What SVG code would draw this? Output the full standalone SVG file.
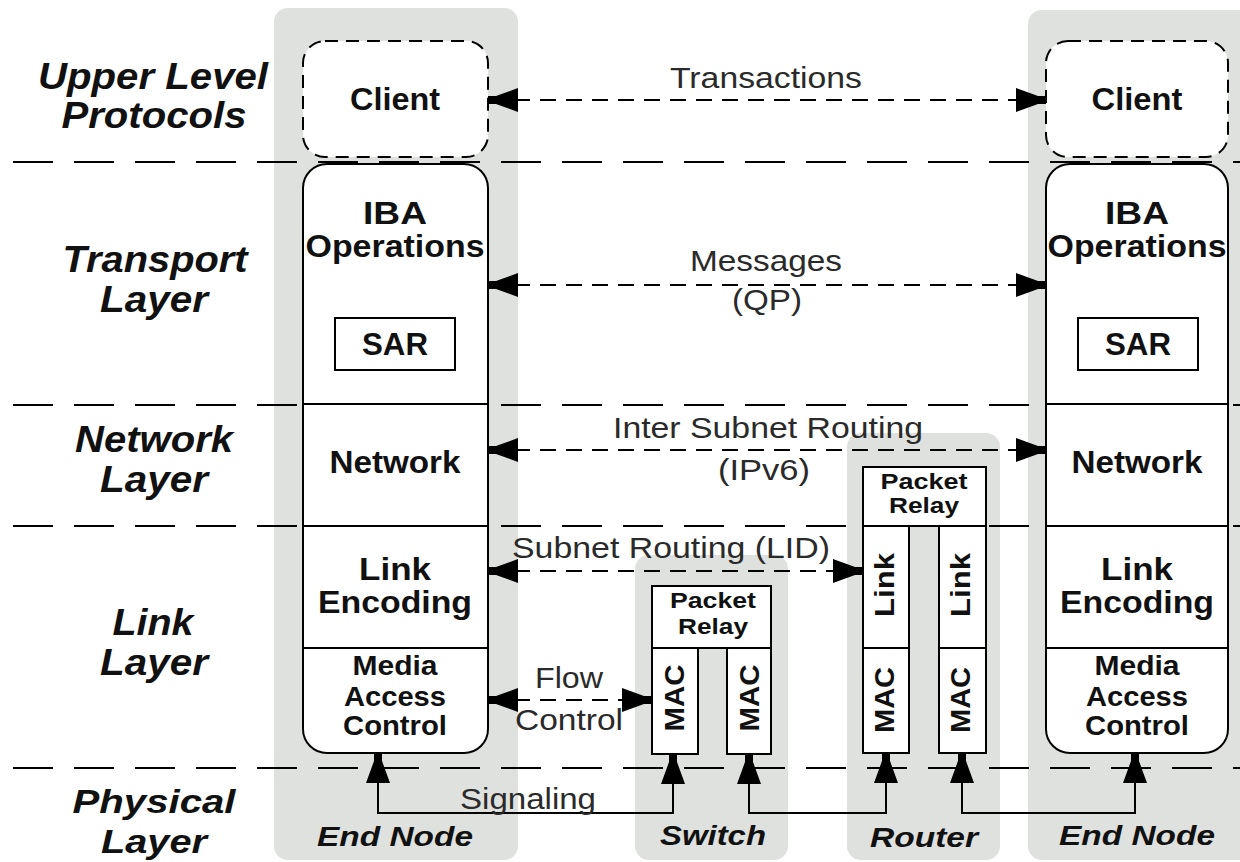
<svg xmlns="http://www.w3.org/2000/svg" width="1240" height="862" viewBox="0 0 1240 862">
  <style>
    .panel { fill: #dfe1de; }
    .layer-line { stroke: #000; stroke-width: 2; stroke-dasharray: 40 21; fill: none; }
    .box { fill: #fff; stroke: #000; stroke-width: 2; }
    .dbox { fill: #fff; stroke: #000; stroke-width: 2; stroke-dasharray: 13 8; }
    .div { stroke: #000; stroke-width: 2; fill: none; }
    .conn { stroke: #000; stroke-width: 2; fill: none; stroke-dasharray: 16 10; }
    .sig { stroke: #000; stroke-width: 2; fill: none; }
    .layer { font-family: "Liberation Sans", Arial, sans-serif; font-weight: bold; font-style: italic; font-size: 36px; fill: #111; text-anchor: middle; }
    .layer-sm { font-size: 33px; }
    .lbl { font-family: "Liberation Sans", Arial, sans-serif; font-weight: bold; font-size: 32px; fill: #111; text-anchor: middle; }
    .lbl-s { font-family: "Liberation Sans", Arial, sans-serif; font-weight: bold; font-size: 28px; fill: #111; text-anchor: middle; }
    .lbl-xs { font-family: "Liberation Sans", Arial, sans-serif; font-weight: bold; font-size: 22px; fill: #111; text-anchor: middle; }
    .lbl-rot { font-family: "Liberation Sans", Arial, sans-serif; font-weight: bold; font-size: 28px; fill: #111; text-anchor: middle; }
    .cap { font-family: "Liberation Sans", Arial, sans-serif; font-weight: bold; font-style: italic; font-size: 28px; fill: #111; text-anchor: middle; }
    .clbl { font-family: "Liberation Sans", Arial, sans-serif; font-size: 29px; fill: #2a2a2a; text-anchor: middle; }
  </style>
  <defs>
    <marker id="ah" viewBox="0 0 30 24" refX="30" refY="12" markerWidth="30" markerHeight="24" markerUnits="userSpaceOnUse" orient="auto-start-reverse">
      <path d="M0,0 L22,8 L30,8 L30,16 L22,16 L0,24 Z" fill="#000"/>
    </marker>
  </defs>

  <rect width="1240" height="862" fill="#fff"/>

  <!-- shaded node panels -->
  <g id="panels">
    <rect class="panel" x="274" y="8" width="244" height="852" rx="14"/>
    <rect class="panel" x="1028" y="10" width="230" height="850" rx="14"/>
    <rect class="panel" x="635" y="555" width="153" height="305" rx="14"/>
    <rect class="panel" x="847" y="433" width="153" height="427" rx="14"/>
  </g>

  <!-- layer boundaries -->
  <g id="layer-lines">
    <line class="layer-line" x1="13" y1="162" x2="1240" y2="162"/>
    <line class="layer-line" x1="13" y1="405" x2="1240" y2="405"/>
    <line class="layer-line" x1="13" y1="526" x2="1240" y2="526"/>
    <line class="layer-line" x1="13" y1="768" x2="1240" y2="768"/>
  </g>

  <!-- layer names -->
  <g id="layer-names">
    <text class="layer" x="153" y="89" textLength="230" lengthAdjust="spacingAndGlyphs">Upper Level</text>
    <text class="layer" x="154" y="128" textLength="185" lengthAdjust="spacingAndGlyphs">Protocols</text>
    <text class="layer" x="155" y="272" textLength="185" lengthAdjust="spacingAndGlyphs">Transport</text>
    <text class="layer" x="154" y="312" textLength="108" lengthAdjust="spacingAndGlyphs">Layer</text>
    <text class="layer" x="154" y="452" textLength="158" lengthAdjust="spacingAndGlyphs">Network</text>
    <text class="layer" x="154" y="492" textLength="108" lengthAdjust="spacingAndGlyphs">Layer</text>
    <text class="layer" x="153" y="635" textLength="81" lengthAdjust="spacingAndGlyphs">Link</text>
    <text class="layer" x="154" y="675" textLength="108" lengthAdjust="spacingAndGlyphs">Layer</text>
    <text class="layer layer-sm" x="154" y="813" textLength="163" lengthAdjust="spacingAndGlyphs">Physical</text>
    <text class="layer layer-sm" x="154" y="853" textLength="106" lengthAdjust="spacingAndGlyphs">Layer</text>
  </g>

  <!-- left end node -->
  <g id="end-node-left">
    <rect class="dbox" x="303" y="41" width="185" height="116" rx="22"/>
    <text class="lbl" x="395" y="110" textLength="90" lengthAdjust="spacingAndGlyphs">Client</text>
    <rect class="box" x="303" y="164" width="185" height="589" rx="24"/>
    <line class="div" x1="303" y1="404" x2="488" y2="404"/>
    <line class="div" x1="303" y1="526" x2="488" y2="526"/>
    <line class="div" x1="303" y1="648" x2="488" y2="648"/>
    <text class="lbl" x="395" y="224" textLength="64" lengthAdjust="spacingAndGlyphs">IBA</text>
    <text class="lbl" x="395" y="257" textLength="179" lengthAdjust="spacingAndGlyphs">Operations</text>
    <rect class="box" x="335" y="318" width="120" height="52"/>
    <text class="lbl" x="395" y="355" textLength="66" lengthAdjust="spacingAndGlyphs">SAR</text>
    <text class="lbl" x="395" y="473" textLength="131" lengthAdjust="spacingAndGlyphs">Network</text>
    <text class="lbl" x="395" y="580" textLength="72" lengthAdjust="spacingAndGlyphs">Link</text>
    <text class="lbl" x="395" y="613" textLength="154" lengthAdjust="spacingAndGlyphs">Encoding</text>
    <text class="lbl-s" x="395" y="675" textLength="85" lengthAdjust="spacingAndGlyphs">Media</text>
    <text class="lbl-s" x="395" y="706" textLength="102" lengthAdjust="spacingAndGlyphs">Access</text>
    <text class="lbl-s" x="395" y="735" textLength="104" lengthAdjust="spacingAndGlyphs">Control</text>
    <text class="cap" x="395" y="846" textLength="156" lengthAdjust="spacingAndGlyphs">End Node</text>
  </g>

  <!-- right end node -->
  <g id="end-node-right">
    <rect class="dbox" x="1046" y="41" width="182" height="116" rx="22"/>
    <text class="lbl" x="1137" y="110" textLength="91" lengthAdjust="spacingAndGlyphs">Client</text>
    <rect class="box" x="1046" y="164" width="182" height="589" rx="24"/>
    <line class="div" x1="1046" y1="404" x2="1228" y2="404"/>
    <line class="div" x1="1046" y1="526" x2="1228" y2="526"/>
    <line class="div" x1="1046" y1="648" x2="1228" y2="648"/>
    <text class="lbl" x="1137" y="224" textLength="64" lengthAdjust="spacingAndGlyphs">IBA</text>
    <text class="lbl" x="1137" y="257" textLength="179" lengthAdjust="spacingAndGlyphs">Operations</text>
    <rect class="box" x="1078" y="318" width="120" height="52"/>
    <text class="lbl" x="1138" y="355" textLength="66" lengthAdjust="spacingAndGlyphs">SAR</text>
    <text class="lbl" x="1137" y="473" textLength="131" lengthAdjust="spacingAndGlyphs">Network</text>
    <text class="lbl" x="1137" y="580" textLength="72" lengthAdjust="spacingAndGlyphs">Link</text>
    <text class="lbl" x="1137" y="613" textLength="154" lengthAdjust="spacingAndGlyphs">Encoding</text>
    <text class="lbl-s" x="1137" y="675" textLength="85" lengthAdjust="spacingAndGlyphs">Media</text>
    <text class="lbl-s" x="1137" y="706" textLength="102" lengthAdjust="spacingAndGlyphs">Access</text>
    <text class="lbl-s" x="1137" y="735" textLength="104" lengthAdjust="spacingAndGlyphs">Control</text>
    <text class="cap" x="1137" y="845" textLength="156" lengthAdjust="spacingAndGlyphs">End Node</text>
  </g>

  <!-- switch -->
  <g id="switch">
    <rect class="box" x="652" y="586" width="119" height="62"/>
    <text class="lbl-xs" x="713" y="608" textLength="86" lengthAdjust="spacingAndGlyphs">Packet</text>
    <text class="lbl-xs" x="713" y="634" textLength="70" lengthAdjust="spacingAndGlyphs">Relay</text>
    <rect class="box" x="652" y="648" width="46" height="106"/>
    <rect class="box" x="727" y="648" width="44" height="106"/>
    <text class="lbl-rot" transform="translate(684 698) rotate(-90)" textLength="67" lengthAdjust="spacingAndGlyphs">MAC</text>
    <text class="lbl-rot" transform="translate(759 698) rotate(-90)" textLength="67" lengthAdjust="spacingAndGlyphs">MAC</text>
    <text class="cap" x="713" y="845" textLength="106" lengthAdjust="spacingAndGlyphs">Switch</text>
  </g>

  <!-- router -->
  <g id="router">
    <rect class="box" x="863" y="467" width="123" height="59"/>
    <text class="lbl-xs" x="924" y="489" textLength="87" lengthAdjust="spacingAndGlyphs">Packet</text>
    <text class="lbl-xs" x="924" y="513" textLength="70" lengthAdjust="spacingAndGlyphs">Relay</text>
    <rect class="box" x="863" y="526" width="46" height="122"/>
    <rect class="box" x="863" y="648" width="46" height="105"/>
    <rect class="box" x="939" y="526" width="47" height="122"/>
    <rect class="box" x="939" y="648" width="47" height="105"/>
    <text class="lbl-rot" transform="translate(894 585) rotate(-90)" textLength="64" lengthAdjust="spacingAndGlyphs">Link</text>
    <text class="lbl-rot" transform="translate(970 585) rotate(-90)" textLength="64" lengthAdjust="spacingAndGlyphs">Link</text>
    <text class="lbl-rot" transform="translate(894 700) rotate(-90)" textLength="66" lengthAdjust="spacingAndGlyphs">MAC</text>
    <text class="lbl-rot" transform="translate(970 700) rotate(-90)" textLength="66" lengthAdjust="spacingAndGlyphs">MAC</text>
    <text class="cap" x="924" y="847" textLength="108" lengthAdjust="spacingAndGlyphs">Router</text>
  </g>

  <!-- peer-to-peer connectors -->
  <g id="connectors">
    <path class="conn" d="M488,100 H1046" marker-start="url(#ah)" marker-end="url(#ah)"/>
    <path class="conn" d="M488,285 H1046" marker-start="url(#ah)" marker-end="url(#ah)"/>
    <path class="conn" d="M488,450 H1046" marker-start="url(#ah)" marker-end="url(#ah)"/>
    <path class="conn" d="M488,571 H863" marker-start="url(#ah)" marker-end="url(#ah)"/>
    <path class="conn" d="M488,700 H652" marker-start="url(#ah)" marker-end="url(#ah)"/>
    <path class="sig" d="M378,753 V813 H673 V754" marker-start="url(#ah)" marker-end="url(#ah)"/>
    <path class="sig" d="M749,754 V813 H886 V753" marker-start="url(#ah)" marker-end="url(#ah)"/>
    <path class="sig" d="M962,753 V813 H1135 V753" marker-start="url(#ah)" marker-end="url(#ah)"/>
  </g>

  <!-- connector labels -->
  <g id="connector-labels">
    <text class="clbl" x="766" y="88" textLength="192" lengthAdjust="spacingAndGlyphs">Transactions</text>
    <text class="clbl" x="766" y="271" textLength="152" lengthAdjust="spacingAndGlyphs">Messages</text>
    <text class="clbl" x="767" y="310" textLength="70" lengthAdjust="spacingAndGlyphs">(QP)</text>
    <text class="clbl" x="768" y="438" textLength="310" lengthAdjust="spacingAndGlyphs">Inter Subnet Routing</text>
    <text class="clbl" x="764" y="480" textLength="92" lengthAdjust="spacingAndGlyphs">(IPv6)</text>
    <text class="clbl" x="671" y="558" textLength="318" lengthAdjust="spacingAndGlyphs">Subnet Routing (LID)</text>
    <text class="clbl" x="569" y="688" textLength="68" lengthAdjust="spacingAndGlyphs">Flow</text>
    <text class="clbl" x="569" y="730" textLength="108" lengthAdjust="spacingAndGlyphs">Control</text>
    <text class="clbl" x="528" y="809" textLength="136" lengthAdjust="spacingAndGlyphs">Signaling</text>
  </g>
</svg>
